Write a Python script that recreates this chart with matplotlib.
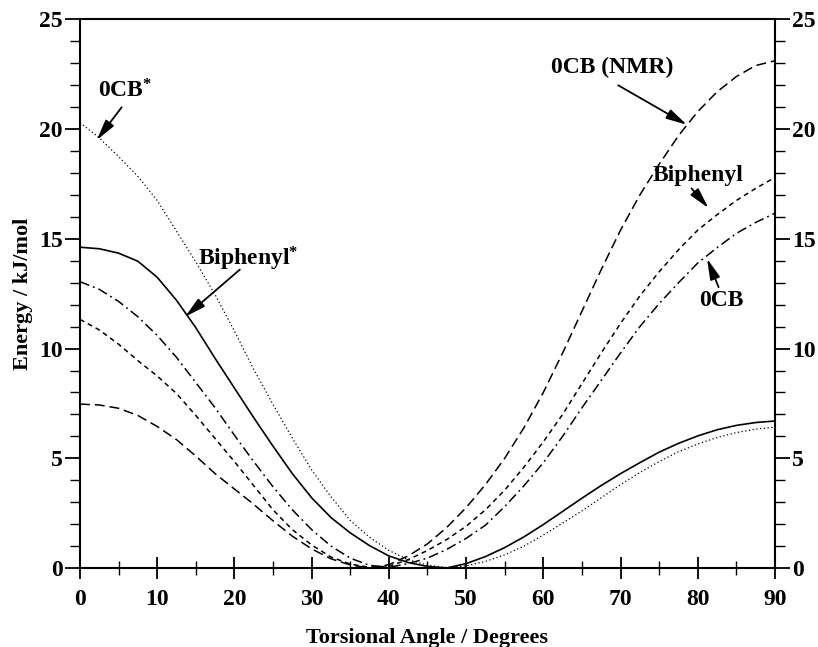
import matplotlib
matplotlib.use("Agg")
import matplotlib.pyplot as plt
from matplotlib.ticker import MultipleLocator

plt.rcParams['font.family'] = ['Liberation Serif', 'DejaVu Serif']
plt.rcParams['font.weight'] = 'bold'
plt.rcParams['mathtext.fontset'] = 'custom'
plt.rcParams['mathtext.rm'] = 'Liberation Serif:bold'
plt.rcParams['mathtext.bf'] = 'Liberation Serif:bold'
plt.rcParams['mathtext.it'] = 'Liberation Serif:bold'

# Torsional angle (degrees)
angle = [0, 2.5, 5, 7.5, 10, 12.5, 15, 17.5, 20, 22.5, 25, 27.5, 30, 32.5, 35, 37.5,
         40, 42.5, 45, 47.5, 50, 52.5, 55, 57.5, 60, 62.5, 65, 67.5, 70, 72.5, 75,
         77.5, 80, 82.5, 85, 87.5, 90]

# Energies (kJ/mol)
biphenyl_star = [14.62, 14.55, 14.35, 13.98, 13.25, 12.2, 10.95, 9.55, 8.2, 6.85, 5.55,
                 4.3, 3.2, 2.3, 1.6, 1.02, 0.55, 0.25, 0.07, 0.0, 0.2, 0.52, 0.93, 1.42,
                 1.98, 2.58, 3.18, 3.76, 4.3, 4.8, 5.28, 5.68, 6.02, 6.3, 6.5, 6.63, 6.7]
ocb_star = [20.3, 19.6, 18.75, 17.85, 16.75, 15.35, 13.95, 12.45, 10.8, 9.05, 7.45,
            5.92, 4.47, 3.25, 2.17, 1.4, 0.8, 0.38, 0.13, 0.02, 0.1, 0.3, 0.6, 1.0,
            1.5, 2.05, 2.6, 3.2, 3.8, 4.35, 4.85, 5.3, 5.65, 5.95, 6.17, 6.33, 6.42]
ocb_nmr = [7.47, 7.43, 7.28, 6.95, 6.45, 5.85, 5.1, 4.3, 3.6, 2.9, 2.15,
           1.45, 0.87, 0.42, 0.14, 0.0, 0.15, 0.55, 1.1, 1.85, 2.75, 3.8, 5.0, 6.4,
           8.0, 9.8, 11.7, 13.6, 15.4, 17.0, 18.4, 19.7, 20.8, 21.7, 22.4, 22.9, 23.12]
biphenyl = [11.33, 10.85, 10.2, 9.45, 8.75, 7.95, 6.95, 5.9, 4.85, 3.75, 2.65,
            1.75, 1.05, 0.5, 0.18, 0.03, 0.08, 0.38, 0.8, 1.3, 1.9, 2.65, 3.55, 4.6,
            5.75, 7.0, 8.4, 9.8, 11.15, 12.4, 13.5, 14.5, 15.4, 16.1, 16.75, 17.3, 17.8]
ocb = [13.05, 12.7, 12.15, 11.45, 10.6, 9.6, 8.45, 7.3, 6.05, 4.85, 3.7,
       2.65, 1.75, 1.0, 0.45, 0.12, 0.03, 0.2, 0.45, 0.85, 1.35, 1.95, 2.8, 3.75,
       4.8, 6.0, 7.3, 8.55, 9.8, 11.0, 12.05, 13.0, 13.9, 14.6, 15.25, 15.75, 16.17]

fig = plt.figure(figsize=(8.18, 6.47), dpi=100)
ax = fig.add_axes([0.0978, 0.1221, 0.8496, 0.8478])

ax.plot(angle, biphenyl_star, color='black', lw=1.2, ls='-')
ax.plot(angle, ocb_star, color='black', lw=0.9, ls=(0, (1, 2)))
ax.plot(angle, ocb_nmr, color='black', lw=1.1, ls=(0, (6.5, 3.2)))
ax.plot(angle, biphenyl, color='black', lw=1.1, ls=(0, (3.2, 2.6)))
ax.plot(angle, ocb, color='black', lw=1.1, ls=(0, (6.5, 2.6, 1.2, 2.6)))

ax.set_xlim(0, 90)
ax.set_ylim(0, 25)
ax.xaxis.set_major_locator(MultipleLocator(10))
ax.xaxis.set_minor_locator(MultipleLocator(5))
ax.yaxis.set_major_locator(MultipleLocator(5))
ax.yaxis.set_minor_locator(MultipleLocator(1))

for s in ax.spines.values():
    s.set_linewidth(1.5)

ax.tick_params(axis='y', which='both', left=True, right=True, labelleft=True, labelright=True,
               direction='out', labelsize=17)
ax.tick_params(axis='y', which='major', length=10.5, width=1.3, pad=2)
ax.tick_params(axis='y', which='minor', length=7, width=1.0)
ax.tick_params(axis='x', which='both', bottom=True, top=False, direction='inout', labelsize=17)
ax.tick_params(axis='x', which='major', length=16, width=1.3, pad=7)
ax.tick_params(axis='x', which='minor', length=10, width=1.0)
for lab in ax.get_xticklabels() + ax.get_yticklabels():
    lab.set_fontweight('bold')

ax.set_xlabel('Torsional Angle / Degrees', fontsize=16, fontweight='bold')
ax.set_ylabel('Energy / kJ/mol', fontsize=16, fontweight='bold')
ax.xaxis.set_label_coords(0.5, -0.11)
ax.yaxis.set_label_coords(-0.068, 0.5)

arrow = dict(arrowstyle='-|>,head_length=0.9,head_width=0.22', color='black', lw=1.3,
             mutation_scale=14, shrinkA=0, shrinkB=0)
fs = 17
ax.text(5.8, 21.75, r'0CB$^{*}$', ha='center', va='center', fontsize=fs, fontweight='bold')
ax.annotate('', xy=(2.16, 19.5), xytext=(5.4, 21.0), arrowprops=arrow)
ax.text(21.8, 14.1, r'Biphenyl$^{*}$', ha='center', va='center', fontsize=fs, fontweight='bold')
ax.annotate('', xy=(13.6, 11.45), xytext=(20.7, 13.6), arrowprops=arrow)
ax.text(68.9, 22.8, '0CB (NMR)', ha='center', va='center', fontsize=fs, fontweight='bold')
ax.annotate('', xy=(78.6, 20.2), xytext=(69.7, 22.0), arrowprops=arrow)
ax.text(80.0, 17.9, 'Biphenyl', ha='center', va='center', fontsize=fs, fontweight='bold')
ax.annotate('', xy=(81.4, 16.4), xytext=(79.2, 17.3), arrowprops=arrow)
ax.text(83.1, 12.2, '0CB', ha='center', va='center', fontsize=fs, fontweight='bold')
ax.annotate('', xy=(81.2, 14.1), xytext=(82.7, 12.8), arrowprops=arrow)

fig.savefig('out.png', dpi=100)
